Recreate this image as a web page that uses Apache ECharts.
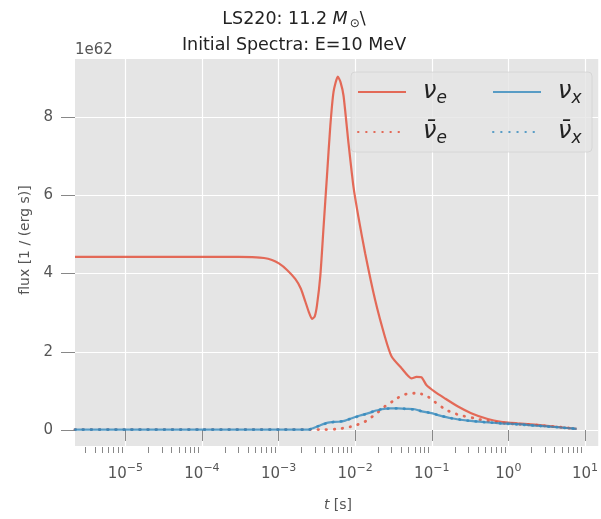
<!DOCTYPE html>
<html>
<head>
<meta charset="utf-8">
<script src="https://cdn.jsdelivr.net/npm/echarts@6/dist/echarts.min.js"></script>
<style>
  html, body { margin: 0; padding: 0; background: #fff; }
  #main { width: 601px; height: 519px; }
</style>
</head>
<body>
<div id="main"></div>
<script>
// flux values in units of 1e62 (1 / (erg s)), time in s

// nu_e
var tNuE = [2.2e-6, 1e-5, 1e-4, 3e-4, 4.5e-4, 6.46e-4, 8.2e-4, 1.01e-3, 1.28e-3, 1.66e-3,
  1.95e-3, 2.24e-3, 2.48e-3, 2.73e-3, 2.96e-3, 3.17e-3, 3.51e-3, 3.87e-3, 4.28e-3, 4.73e-3,
  5.22e-3, 5.94e-3, 6.44e-3, 7.05e-3, 8.18e-3, 9.49e-3, 1.10e-2, 1.35e-2, 1.82e-2, 2.45e-2,
  2.99e-2, 4.03e-2, 5.43e-2, 6.31e-2, 7.33e-2, 8.51e-2, 0.109, 0.148, 0.220, 0.327,
  0.538, 0.80, 1.32, 2.41, 4.82, 7.78];
var fluxNuE = [4.43, 4.43, 4.43, 4.43, 4.42, 4.40, 4.35, 4.26, 4.10, 3.86,
  3.62, 3.28, 3.02, 2.84, 2.90, 3.18, 3.95, 5.20, 6.48, 7.76,
  8.65, 9.04, 8.90, 8.55, 7.34, 6.23, 5.46, 4.52, 3.33, 2.38,
  1.88, 1.58, 1.32, 1.36, 1.35, 1.15, 0.98, 0.81, 0.60, 0.43,
  0.28, 0.21, 0.17, 0.13, 0.07, 0.03];

// anti nu_e
var tNuEBar = [2.2e-6, 1e-5, 1e-4, 1e-3, 2.7e-3, 4.07e-3, 5.5e-3, 6.7e-3, 8.6e-3, 1.05e-2,
  1.28e-2, 1.57e-2, 1.91e-2, 2.22e-2, 2.57e-2, 3.14e-2, 4.03e-2, 4.92e-2, 6.0e-2, 7.33e-2,
  8.95e-2, 0.109, 0.155, 0.231, 0.362, 0.488, 0.80, 1.32, 2.41, 4.82, 7.78];
var fluxNuEBar = [0.01, 0.01, 0.01, 0.01, 0.01, 0.01, 0.02, 0.04, 0.08, 0.13,
  0.19, 0.30, 0.43, 0.53, 0.64, 0.74, 0.88, 0.93, 0.94, 0.92,
  0.85, 0.72, 0.51, 0.38, 0.30, 0.24, 0.18, 0.15, 0.12, 0.07, 0.03];

// nu_x
var tNuX = [2.2e-6, 1e-5, 1e-4, 1e-3, 2.5e-3, 2.73e-3, 3.33e-3, 4.07e-3, 4.92e-3, 6.07e-3,
  7.41e-3, 9.04e-3, 1.16e-2, 1.49e-2, 1.82e-2, 2.22e-2, 2.85e-2, 3.65e-2, 4.68e-2, 6.0e-2,
  7.7e-2, 9.89e-2, 0.121, 0.180, 0.296, 0.488, 0.80, 1.32, 2.29, 4.37, 7.78];
var fluxNuX = [0.01, 0.01, 0.01, 0.01, 0.01, 0.04, 0.10, 0.17, 0.20, 0.21,
  0.24, 0.30, 0.37, 0.43, 0.49, 0.53, 0.55, 0.55, 0.54, 0.53,
  0.47, 0.43, 0.38, 0.30, 0.24, 0.20, 0.17, 0.15, 0.11, 0.07, 0.03];

// anti nu_x
var tNuXBar = tNuX;
var fluxNuXBar = [0.01, 0.01, 0.01, 0.01, 0.01, 0.04, 0.10, 0.16, 0.20, 0.21,
  0.24, 0.30, 0.36, 0.43, 0.49, 0.53, 0.55, 0.55, 0.54, 0.52,
  0.47, 0.43, 0.38, 0.30, 0.24, 0.20, 0.17, 0.14, 0.11, 0.07, 0.03];

var xMajor = [1e-5, 1e-4, 1e-3, 1e-2, 1e-1, 1, 10];
var yTicks = [0, 2, 4, 6, 8];

var xMinor = [];
for (var k = -6; k <= 1; k++) {
  for (var m = 2; m <= 9; m++) {
    xMinor.push(m * Math.pow(10, k));
  }
}

function pairs(t, v) {
  return t.map(function (x, i) { return [x, v[i]]; });
}

var red = 'rgba(226,74,51,0.8)';
var blue = 'rgba(52,138,189,0.8)';
var font = 'DejaVu Sans';
var dotted = [0.5, 7.6];

var legendRich = {
  n: { fontFamily: font, fontSize: 24, fontStyle: 'italic', color: '#222' },
  s: { fontFamily: font, fontSize: 17, fontStyle: 'italic', color: '#222', padding: [14, 0, 0, 0] }
};
var legendNames = {
  nu_e: '{n|\u03bd}{s|e}',
  nu_x: '{n|\u03bd}{s|x}',
  nubar_e: '{n|\u03bd\u0304}{s|e}',
  nubar_x: '{n|\u03bd\u0304}{s|x}'
};
function mkLegend(name, left, top) {
  return {
    data: [name], left: left, top: top, padding: 0, z: 20,
    itemWidth: 48, itemHeight: 14,
    itemStyle: { opacity: 0 },
    formatter: function (nm) { return legendNames[nm]; },
    textStyle: { rich: legendRich, padding: [0, 0, 0, 12] }
  };
}

var chart = echarts.init(document.getElementById('main'));
chart.setOption({
  animation: false,
  backgroundColor: '#fff',
  grid: { left: 75, top: 59, right: 0, bottom: 73, show: true, backgroundColor: '#E5E5E5', borderWidth: 0 },
  xAxis: [{
    type: 'log', logBase: 10, min: 2.2e-6, max: 14.9, position: 'bottom', offset: 1,
    axisLine: { show: false },
    axisTick: { customValues: xMajor, length: 11, lineStyle: { color: '#888', width: 1 } },
    splitLine: { show: true, lineStyle: { color: '#fff', width: 1.2 } },
    axisLabel: {
      customValues: xMajor, margin: 16, color: '#555',
      formatter: function (v) {
        var e = Math.round(Math.log10(v));
        return '{b|10}{e|' + (e < 0 ? '\u2212' + (-e) : e) + '}';
      },
      rich: {
        b: { fontFamily: font, fontSize: 15, color: '#555' },
        e: { fontFamily: font, fontSize: 11, color: '#555', padding: [0, 0, 12, 0] }
      }
    }
  }, {
    type: 'log', logBase: 10, min: 2.2e-6, max: 14.9, position: 'bottom', offset: 1,
    axisLine: { show: false },
    axisTick: { customValues: xMinor, length: 6, lineStyle: { color: '#888', width: 1 } },
    splitLine: { show: false },
    axisLabel: { show: false }
  }],
  yAxis: {
    type: 'value', min: -0.41, max: 9.49,
    axisLine: { show: false },
    axisTick: { customValues: yTicks, length: 14, lineStyle: { color: '#888', width: 1 } },
    splitLine: { show: true, lineStyle: { color: '#fff', width: 1.2 } },
    axisLabel: { customValues: yTicks, margin: 22, color: '#555', fontFamily: font, fontSize: 15 }
  },
  legend: [
    mkLegend('nu_e', 357, 80),
    mkLegend('nu_x', 492, 80),
    mkLegend('nubar_e', 357, 120),
    mkLegend('nubar_x', 492, 120)
  ],
  graphic: [
    { type: 'rect', z: 10, shape: { x: 351, y: 72, width: 241, height: 80, r: 4 },
      style: { fill: 'rgba(229,229,229,0.8)', stroke: 'rgba(204,204,204,0.6)', lineWidth: 1 } },
    { type: 'text', z: 10, x: 294, y: 19,
      style: { text: '{n|LS220: 11.2 }{i|M}{s|\u2299}{n|\\}', align: 'center', verticalAlign: 'middle',
        rich: {
          n: { fontFamily: font, fontSize: 17.5, fill: '#222' },
          i: { fontFamily: font, fontSize: 17.5, fontStyle: 'italic', fill: '#222' },
          s: { fontFamily: font, fontSize: 12, fill: '#222', padding: [10, 0, 0, 2] }
        } } },
    { type: 'text', z: 10, x: 294, y: 45,
      style: { text: 'Initial Spectra: E=10 MeV', align: 'center', verticalAlign: 'middle',
        fontFamily: font, fontSize: 17.5, fill: '#222' } },
    { type: 'text', z: 10, x: 75, y: 50,
      style: { text: '1e62', align: 'left', verticalAlign: 'middle', fontFamily: font, fontSize: 15, fill: '#555' } },
    { type: 'text', z: 10, x: 25, y: 240, rotation: Math.PI / 2,
      style: { text: 'flux [1 / (erg s)]', align: 'center', verticalAlign: 'middle', fontFamily: font, fontSize: 14, fill: '#555' } },
    { type: 'text', z: 10, x: 338, y: 505,
      style: { text: '{i|t} [s]', align: 'center', verticalAlign: 'middle',
        rich: {
          i: { fontFamily: font, fontSize: 14, fontStyle: 'italic', fill: '#555' }
        }, fontFamily: font, fontSize: 14, fill: '#555' } }
  ],
  series: [
    { name: 'nu_e', type: 'line', data: pairs(tNuE, fluxNuE), symbol: 'none', smooth: 0.2,
      lineStyle: { color: red, width: 2.2 }, itemStyle: { color: red } },
    { name: 'nubar_e', type: 'line', data: pairs(tNuEBar, fluxNuEBar), symbol: 'none', smooth: 0.2,
      lineStyle: { color: red, width: 2.8, type: dotted, cap: 'round' }, itemStyle: { color: red } },
    { name: 'nu_x', type: 'line', data: pairs(tNuX, fluxNuX), symbol: 'none', smooth: 0.2,
      lineStyle: { color: blue, width: 2.2 }, itemStyle: { color: blue } },
    { name: 'nubar_x', type: 'line', data: pairs(tNuXBar, fluxNuXBar), symbol: 'none', smooth: 0.2,
      lineStyle: { color: blue, width: 2.8, type: dotted, cap: 'round' }, itemStyle: { color: blue } }
  ]
});
</script>
</body>
</html>
